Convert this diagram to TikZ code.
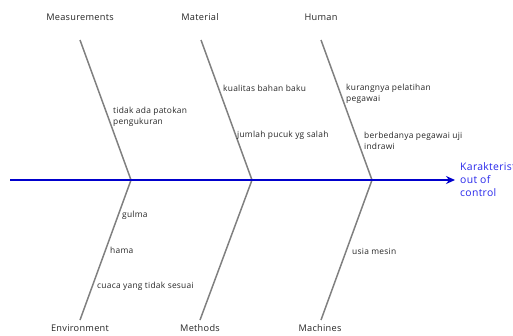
\documentclass[tikz,border=0pt]{standalone}
\usepackage{fontspec}
\setmainfont{Open Sans}
\newfontfamily\spacedfont[LetterSpace=3]{Open Sans}
\usetikzlibrary{arrows.meta}
\definecolor{bone}{RGB}{128,128,128}
\definecolor{spineblue}{RGB}{0,0,205}
\definecolor{effblue}{RGB}{40,40,235}
\begin{document}
\begin{tikzpicture}[x=1pt,y=-1pt,
  bonestyle/.style={draw=bone,line width=1.5pt},
  spinestyle/.style={draw=spineblue,line width=1.6pt,-{Stealth[length=9pt,width=8pt,inset=3pt]}},
  cat/.style={font=\spacedfont\fontsize{9.2}{11}\selectfont,text=black!85,inner sep=0pt},
  cause/.style={font=\spacedfont\fontsize{8.4}{11}\selectfont,text=black!85,inner sep=0pt,anchor=west,align=left},
  effect/.style={font=\spacedfont\fontsize{10.4}{13}\selectfont,text=effblue,inner sep=0pt,anchor=west,align=left}]
\useasboundingbox (0,0) rectangle (513,335);
% spine
\coordinate (s0) at (10,180);
\coordinate (s1) at (455,180);
\coordinate (j1) at (131,180);
\coordinate (j2) at (252,180);
\coordinate (j3) at (372,180);
% bone ends
\coordinate (t1) at (80,40);
\coordinate (t2) at (201,40);
\coordinate (t3) at (321,40);
\coordinate (b1) at (80,320);
\coordinate (b2) at (200,320);
\coordinate (b3) at (321,320);
\draw[bonestyle] (t1) -- (j1) -- (b1);
\draw[bonestyle] (t2) -- (j2) -- (b2);
\draw[bonestyle] (t3) -- (j3) -- (b3);
\draw[spinestyle] (s0) -- (s1);
% categories
\node[cat] (m1) at (80,17) {Measurements};
\node[cat] (m2) at (200,17) {Material};
\node[cat] (m3) at (321,17) {Human};
\node[cat] (m4) at (80,328) {Environment};
\node[cat] (m5) at (200,328) {Methods};
\node[cat] (m6) at (320,328) {Machines};
% causes
\node[cause] (c1) at (113,116.5) {tidak ada patokan\\pengukuran};
\node[cause] (c2) at (223,88) {kualitas bahan baku};
\node[cause] (c3) at (237,135) {jumlah pucuk yg salah};
\node[cause] (c4) at (346,93.5) {kurangnya pelatihan\\pegawai};
\node[cause] (c5) at (364,140.5) {berbedanya pegawai uji\\indrawi};
\node[cause] (c6) at (122,215) {gulma};
\node[cause] (c7) at (110,250) {hama};
\node[cause] (c8) at (97,286) {cuaca yang tidak sesuai};
\node[cause] (c9) at (352,251) {usia mesin};
% effect
\node[effect] (e) at (460,180) {Karakteristik\\out of\\control};
\end{tikzpicture}
\end{document}
